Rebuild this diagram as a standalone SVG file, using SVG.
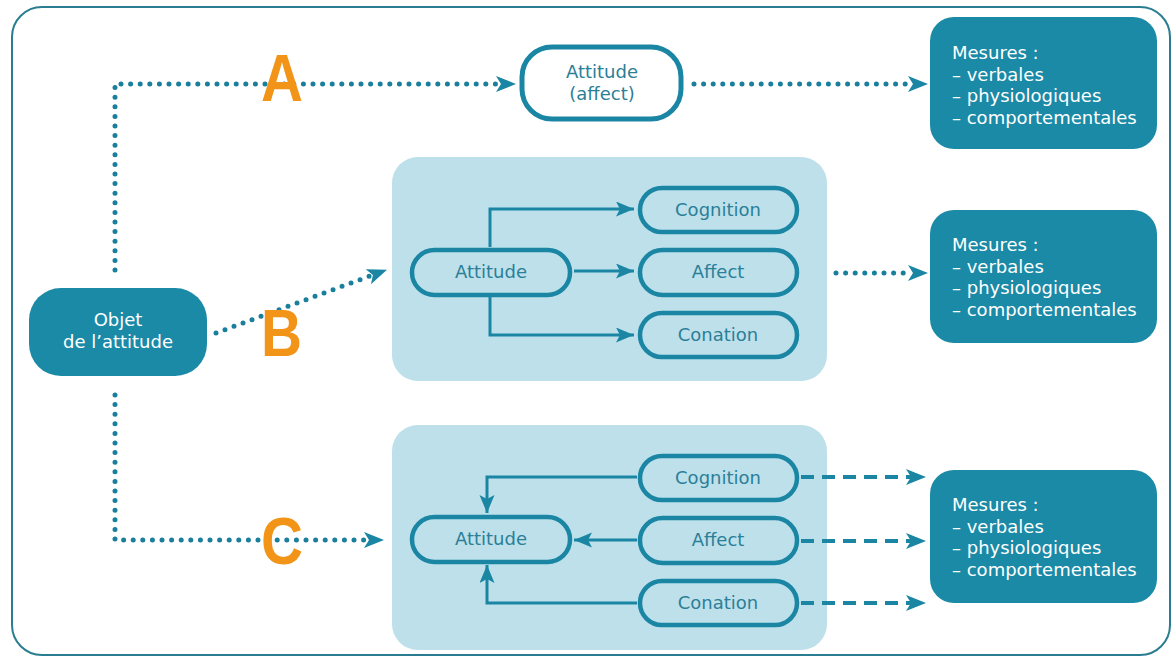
<svg xmlns="http://www.w3.org/2000/svg" width="1171" height="657" viewBox="0 0 1171 657">
<defs>
<style>
.frame{fill:#ffffff;stroke:#2a7d90;stroke-width:2}
.panel{fill:#bde0eb}
.dark{fill:#1a8aa7}
.pill{fill:none;stroke:#1a86a3;stroke-width:4.5}
.pillw{fill:#ffffff;stroke:#1a86a3;stroke-width:5}
.t{font-family:"DejaVu Sans","Open Sans",sans-serif;font-size:18px}
.tw{fill:#ffffff}
.tt{fill:#2b7f97;text-anchor:middle}
.dot{fill:none;stroke:#1a7f9c;stroke-width:5;stroke-linecap:round;stroke-dasharray:0 9.6}
.dash{fill:none;stroke:#1a86a3;stroke-width:4;stroke-dasharray:13 8}
.solid{fill:none;stroke:#1a86a3;stroke-width:3}
.letter{font-family:"Liberation Sans",Arial,sans-serif;font-weight:bold;font-size:66px;fill:#f29418}
</style>
<marker id="ah" markerUnits="userSpaceOnUse" markerWidth="24" markerHeight="20" refX="20" refY="8" orient="auto" viewBox="0 0 24 20">
<path d="M0,0 L20,8 L0,16 L5,8 Z" fill="#1a86a3"/>
</marker>
<marker id="as" markerUnits="userSpaceOnUse" markerWidth="22" markerHeight="18" refX="18" refY="7.5" orient="auto" viewBox="0 0 22 18">
<path d="M0,0 L18,7.5 L0,15 L4,7.5 Z" fill="#1a86a3"/>
</marker>
</defs>

<rect class="frame" x="12" y="7" width="1158" height="648" rx="30"/>

<g id="panelB"><rect class="panel" x="392" y="157" width="435" height="224" rx="26"/></g>
<g id="panelC"><rect class="panel" x="392" y="425" width="435" height="225" rx="26"/></g>

<g id="connectors">
<path class="dot" d="M115,270 V84 H500"/>
<path class="dot" d="M694,84 H912"/>
<path class="dot" d="M216,333 L370,276"/>
<path class="dot" d="M836,273 H912"/>
<path class="dot" d="M115,395 V540 H368"/>
<path d="M115,84 H516" fill="none" stroke="none" marker-end="url(#ah)"/>
<path d="M900,84 H928" fill="none" stroke="none" marker-end="url(#ah)"/>
<path d="M360,279.7 L387,269.8" fill="none" stroke="none" marker-end="url(#ah)"/>
<path d="M900,273 H928" fill="none" stroke="none" marker-end="url(#ah)"/>
<path d="M360,540 H384" fill="none" stroke="none" marker-end="url(#ah)"/>
<path class="dash" d="M801,477 H926" marker-end="url(#ah)"/>
<path class="dash" d="M801,541 H926" marker-end="url(#ah)"/>
<path class="dash" d="M801,603 H926" marker-end="url(#ah)"/>
<path class="solid" d="M490,247 V209 H634" marker-end="url(#as)"/>
<path class="solid" d="M574,271 H634" marker-end="url(#as)"/>
<path class="solid" d="M490,297 V335 H634" marker-end="url(#as)"/>
<path class="solid" d="M637,477 H487 V513" marker-end="url(#as)"/>
<path class="solid" d="M637,540 H574" marker-end="url(#as)"/>
<path class="solid" d="M637,603 H487 V565" marker-end="url(#as)"/>
</g>

<g id="letters">
<text class="letter" x="261" y="101" textLength="42" lengthAdjust="spacingAndGlyphs">A</text>
<text class="letter" x="261" y="356" textLength="41" lengthAdjust="spacingAndGlyphs">B</text>
<text class="letter" x="261" y="564" textLength="42" lengthAdjust="spacingAndGlyphs">C</text>
</g>

<g id="objet">
<rect class="dark" x="29" y="288" width="178" height="88" rx="32"/>
<text class="t tw" text-anchor="middle"><tspan x="118" y="326">Objet</tspan><tspan x="118" y="347.5">de l’attitude</tspan></text>
</g>

<g id="attitudeA">
<rect class="pillw" x="522" y="47" width="159" height="72" rx="30"/>
<text class="t tt"><tspan x="602" y="78">Attitude</tspan><tspan x="602" y="100">(affect)</tspan></text>
</g>

<g id="mesures1">
<rect class="dark" x="930" y="17" width="227" height="132" rx="24"/>
<text class="t tw"><tspan x="952" y="59">Mesures :</tspan><tspan x="952" y="80.5">– verbales</tspan><tspan x="952" y="102">– physiologiques</tspan><tspan x="952" y="123.5">– comportementales</tspan></text>
</g>
<g id="mesures2">
<rect class="dark" x="930" y="210" width="227" height="133" rx="24"/>
<text class="t tw"><tspan x="952" y="251">Mesures :</tspan><tspan x="952" y="272.5">– verbales</tspan><tspan x="952" y="294">– physiologiques</tspan><tspan x="952" y="315.5">– comportementales</tspan></text>
</g>
<g id="mesures3">
<rect class="dark" x="930" y="470" width="227" height="133" rx="24"/>
<text class="t tw"><tspan x="952" y="511">Mesures :</tspan><tspan x="952" y="532.5">– verbales</tspan><tspan x="952" y="554">– physiologiques</tspan><tspan x="952" y="575.5">– comportementales</tspan></text>
</g>

<g id="B-attitude"><rect class="pill" x="412" y="250" width="158" height="45" rx="22.5"/><text class="t tt" x="491" y="278">Attitude</text></g>
<g id="B-cognition"><rect class="pill" x="640" y="188" width="157" height="44" rx="22"/><text class="t tt" x="718" y="216">Cognition</text></g>
<g id="B-affect"><rect class="pill" x="640" y="250" width="157" height="45" rx="22.5"/><text class="t tt" x="718" y="278">Affect</text></g>
<g id="B-conation"><rect class="pill" x="640" y="313" width="157" height="44" rx="22"/><text class="t tt" x="718" y="341">Conation</text></g>

<g id="C-attitude"><rect class="pill" x="412" y="517" width="158" height="45" rx="22.5"/><text class="t tt" x="491" y="545">Attitude</text></g>
<g id="C-cognition"><rect class="pill" x="640" y="456" width="157" height="44" rx="22"/><text class="t tt" x="718" y="484">Cognition</text></g>
<g id="C-affect"><rect class="pill" x="640" y="518" width="157" height="45" rx="22.5"/><text class="t tt" x="718" y="546">Affect</text></g>
<g id="C-conation"><rect class="pill" x="640" y="581" width="157" height="44" rx="22"/><text class="t tt" x="718" y="609">Conation</text></g>
</svg>
